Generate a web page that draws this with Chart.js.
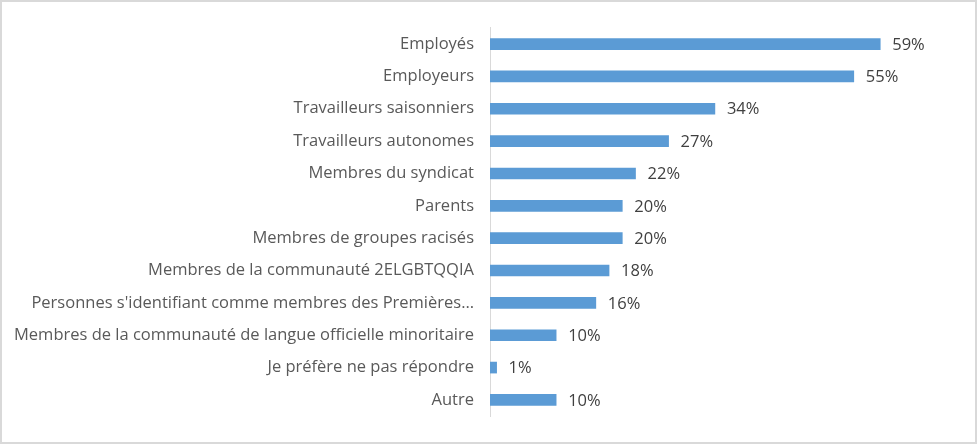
<!DOCTYPE html>
<html>
<head>
<meta charset="utf-8">
<script src="https://cdn.jsdelivr.net/npm/chart.js@4"></script>
<style>
  html, body { margin: 0; padding: 0; background: #fff; }
  .frame {
    width: 977px;
    height: 444px;
    box-sizing: border-box;
    border: 2px solid #d9d9d9;
    position: relative;
  }
  canvas { position: absolute; left: 0; top: 0; }
</style>
</head>
<body>
<div class="frame">
  <canvas id="chart" width="973" height="440"></canvas>
</div>
<script>
const categories = [
  'Employés',
  'Employeurs',
  'Travailleurs saisonniers',
  'Travailleurs autonomes',
  'Membres du syndicat',
  'Parents',
  'Membres de groupes racisés',
  'Membres de la communauté 2ELGBTQQIA',
  "Personnes s'identifiant comme membres des Premières…",
  'Membres de la communauté de langue officielle minoritaire',
  'Je préfère ne pas répondre',
  'Autre'
];
const percents = [59, 55, 34, 27, 22, 20, 20, 18, 16, 10, 1, 10];
const axisMax = 70;

// draws the "59%" labels at the end of each bar
const valueLabels = {
  id: 'valueLabels',
  afterDatasetsDraw(chart) {
    const ctx = chart.ctx;
    const meta = chart.getDatasetMeta(0);
    ctx.save();
    ctx.font = '16.5px "Open Sans"';
    ctx.fillStyle = '#404040';
    ctx.textAlign = 'left';
    ctx.textBaseline = 'middle';
    meta.data.forEach((bar, i) => {
      ctx.fillText(percents[i] + '%', bar.x + 12, bar.y + 1);
    });
    ctx.restore();
  }
};

const ctx = document.getElementById('chart').getContext('2d');
const chart = new Chart(ctx, {
  type: 'bar',
  data: {
    labels: categories,
    datasets: [{
      data: percents,
      backgroundColor: '#5b9bd5',
      barThickness: 11
    }]
  },
  options: {
    indexAxis: 'y',
    responsive: false,
    animation: false,
    layout: {
      padding: { left: 0, right: 22, top: 22, bottom: 22 }
    },
    plugins: {
      legend: { display: false },
      tooltip: { enabled: false }
    },
    scales: {
      x: {
        display: false,
        min: 0,
        max: axisMax
      },
      y: {
        afterFit(scale) { scale.width = 488; },
        grid: { display: false, drawTicks: false },
        border: { display: true, color: '#d9d9d9', width: 1 },
        ticks: {
          color: '#595959',
          font: { family: 'Open Sans', size: 16.5 },
          padding: 16,
          autoSkip: false
        }
      }
    }
  },
  plugins: [valueLabels]
});
</script>
</body>
</html>
